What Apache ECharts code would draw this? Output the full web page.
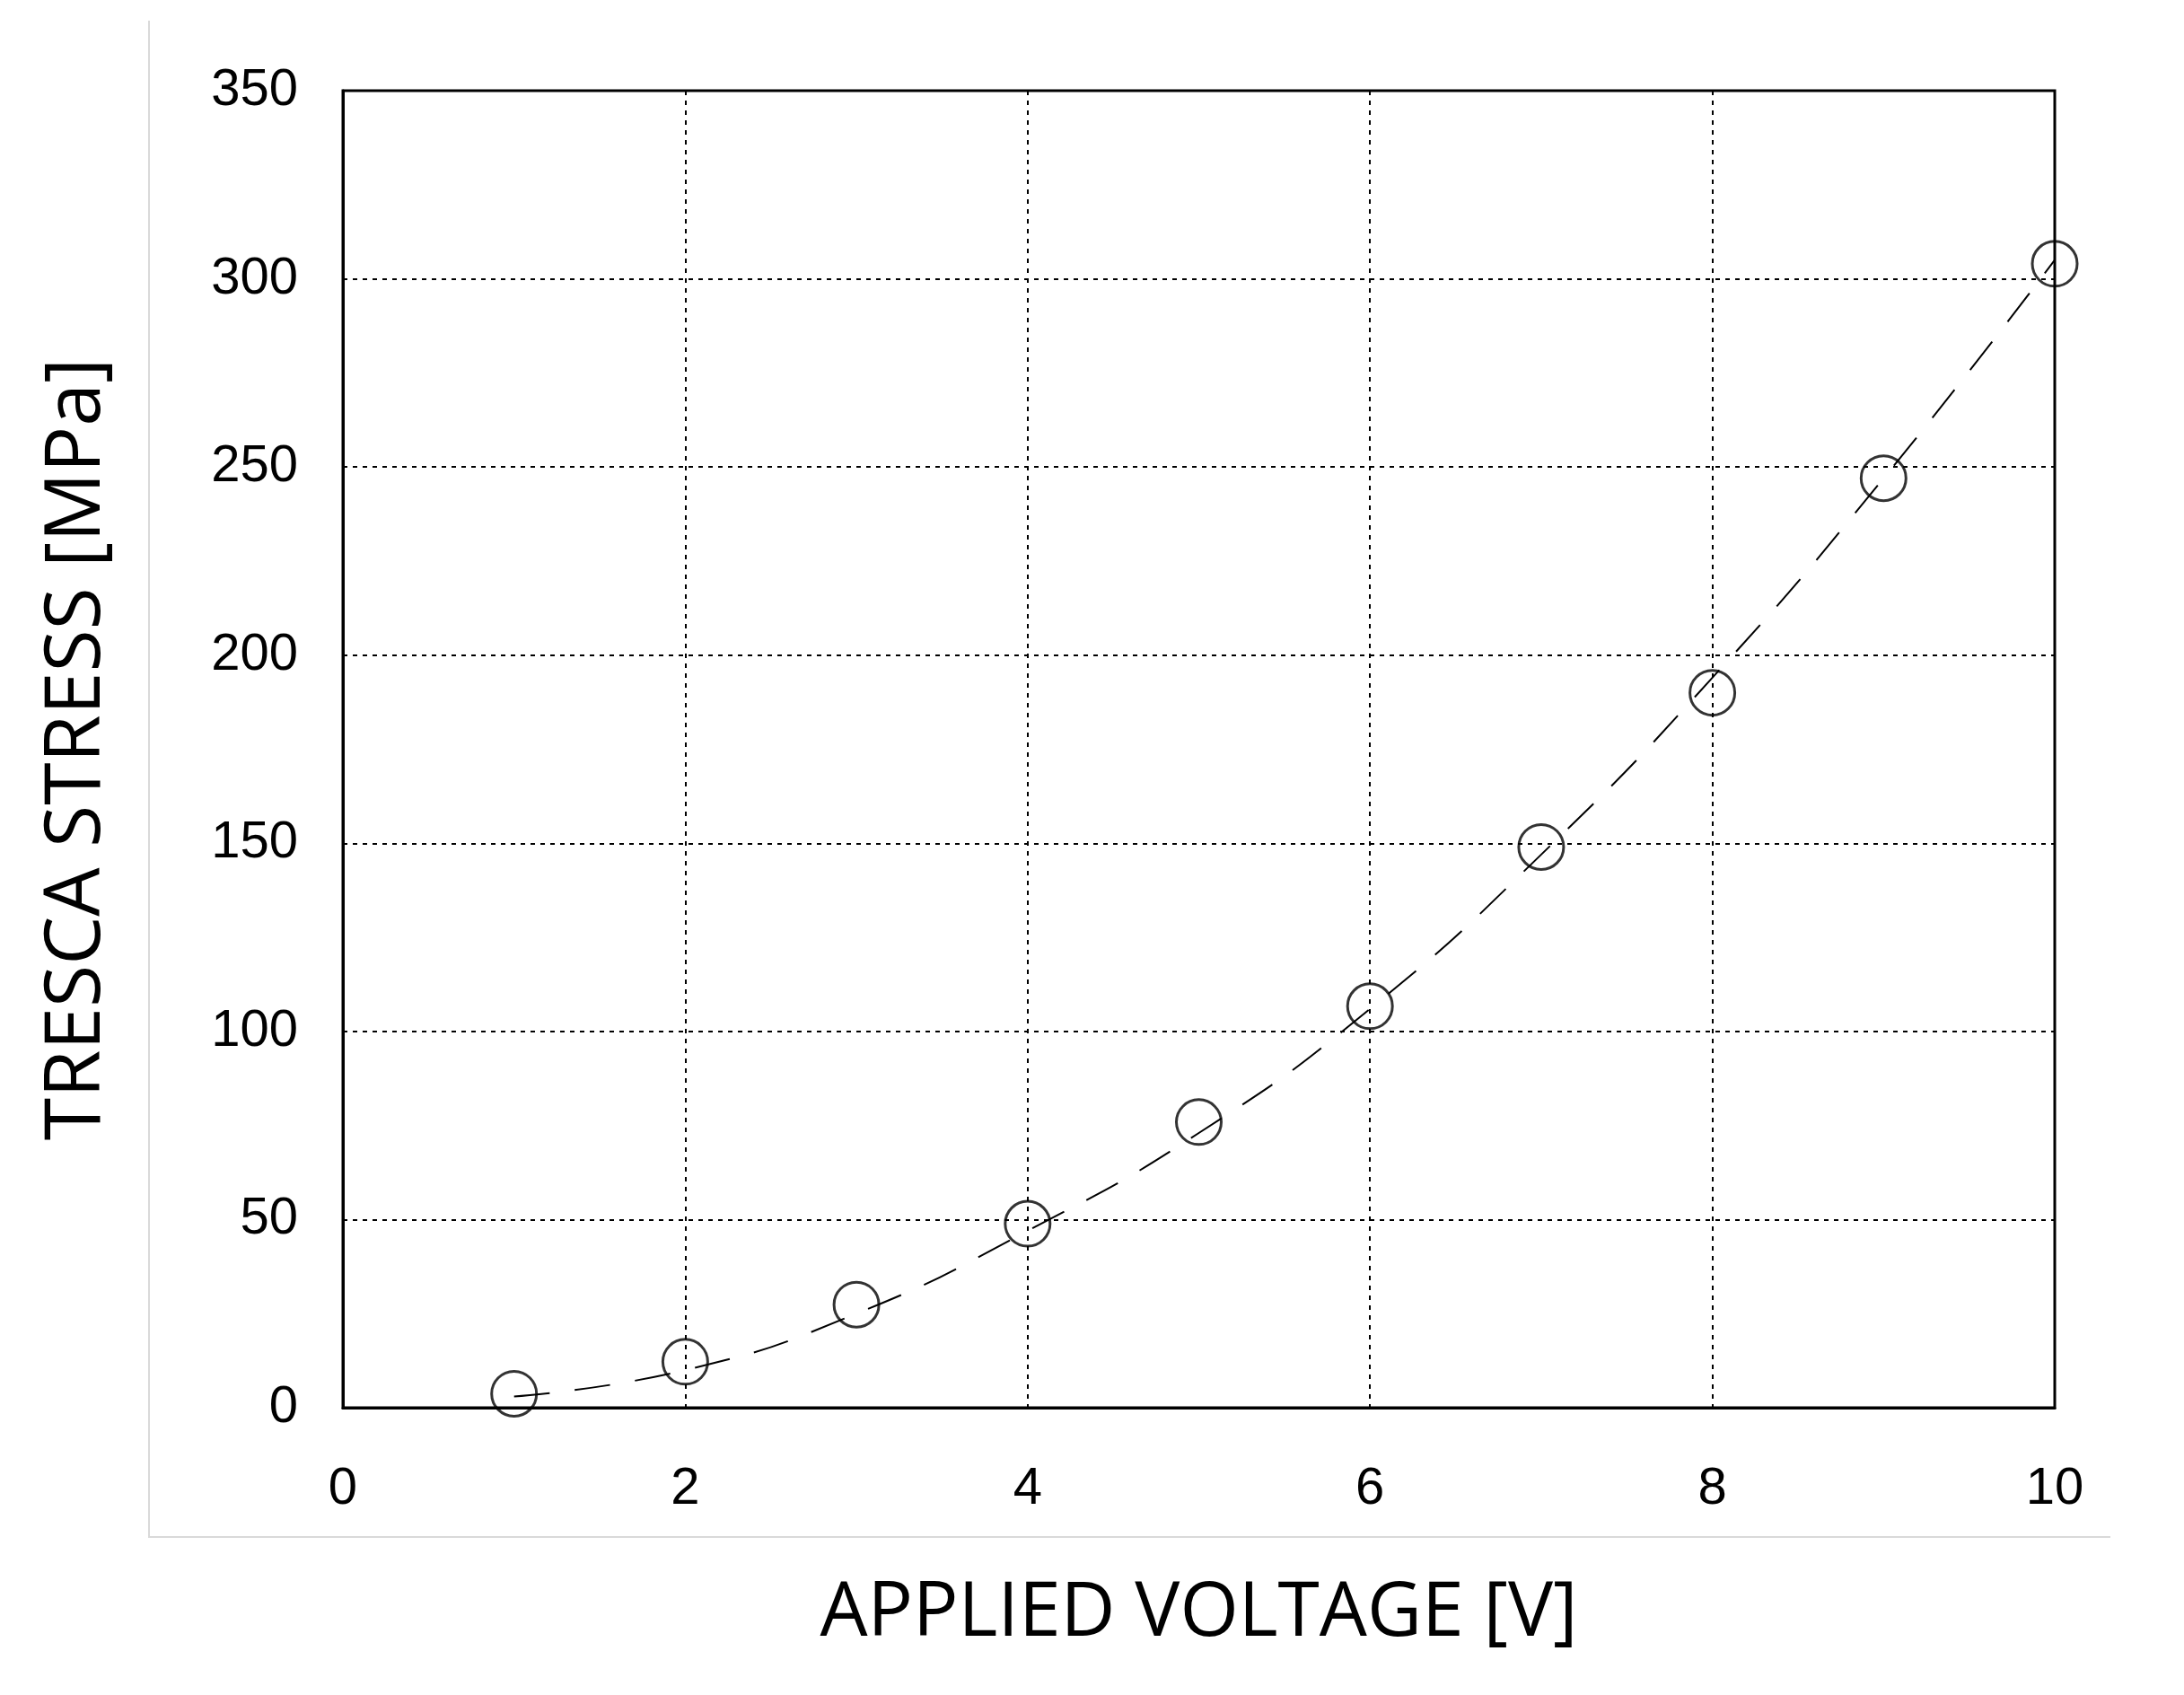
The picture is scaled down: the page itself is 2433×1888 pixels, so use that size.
<!DOCTYPE html>
<html><head><meta charset="utf-8">
<script src="https://cdn.jsdelivr.net/npm/echarts@6/dist/echarts.min.js"></script>
<style>html,body{margin:0;padding:0;background:#fff}#c{width:2433px;height:1888px}</style>
</head><body><div id="c"></div>
<script>
const voltage = [1,2,3,4,5,6,7,8,9,10];
const stress = [3.7,12.2,27.4,48.9,75.9,106.7,149,190,247,304];
const fitStress = [3,10,25,47,73,106,147,194,247,305];
const chart = echarts.init(document.getElementById('c'));
const font = 'Liberation Sans, Arial, sans-serif';
const L=382,R=144,T=101,B=320;
chart.setOption({
  animation:false,
  backgroundColor:'#fff',
  graphic:[{type:'polyline',shape:{points:[[166,23],[166,1712],[2351,1712]]},style:{stroke:'#d9d9d9',lineWidth:2,fill:null}},
    {type:'rect',shape:{x:L,y:T,width:2433-L-R,height:1888-T-B},style:{stroke:'#000',lineWidth:3,fill:null},z:10}],
  grid:{left:L,right:R,top:T,bottom:B},
  xAxis:{type:'value',min:0,max:10,interval:2,name:'APPLIED VOLTAGE [V]',nameLocation:'middle',nameGap:230,
    nameTextStyle:{fontSize:84,fontFamily:'Open Sans, sans-serif',color:'#000',verticalAlign:'middle'},
    axisLine:{lineStyle:{color:'#000',width:3}},axisTick:{show:false},
    axisLabel:{fontSize:58,fontFamily:font,color:'#000',margin:62},
    splitLine:{show:true,lineStyle:{color:'#000',width:2,type:[5,6]}}},
  yAxis:{type:'value',min:0,max:350,interval:50,name:'TRESCA STRESS [MPa]',nameLocation:'middle',nameGap:296,
    nameTextStyle:{fontSize:86,fontFamily:'Open Sans, sans-serif',color:'#000',verticalAlign:'middle'},
    axisLine:{show:true,lineStyle:{color:'#000',width:3}},axisTick:{show:false},
    axisLabel:{fontSize:58,fontFamily:font,color:'#000',margin:50},
    splitLine:{show:true,lineStyle:{color:'#000',width:2,type:[5,6]}}},
  series:[
    {type:'line',data:voltage.map((v,i)=>[v,fitStress[i]]),smooth:true,symbol:'none',
     lineStyle:{color:'#000',width:2,type:[40,28]},z:2},
    {type:'scatter',data:voltage.map((v,i)=>[v,stress[i]]),symbol:'circle',symbolSize:50,
     itemStyle:{color:'rgba(0,0,0,0)',borderColor:'#000',borderWidth:3},z:3}
  ]
});
</script></body></html>
